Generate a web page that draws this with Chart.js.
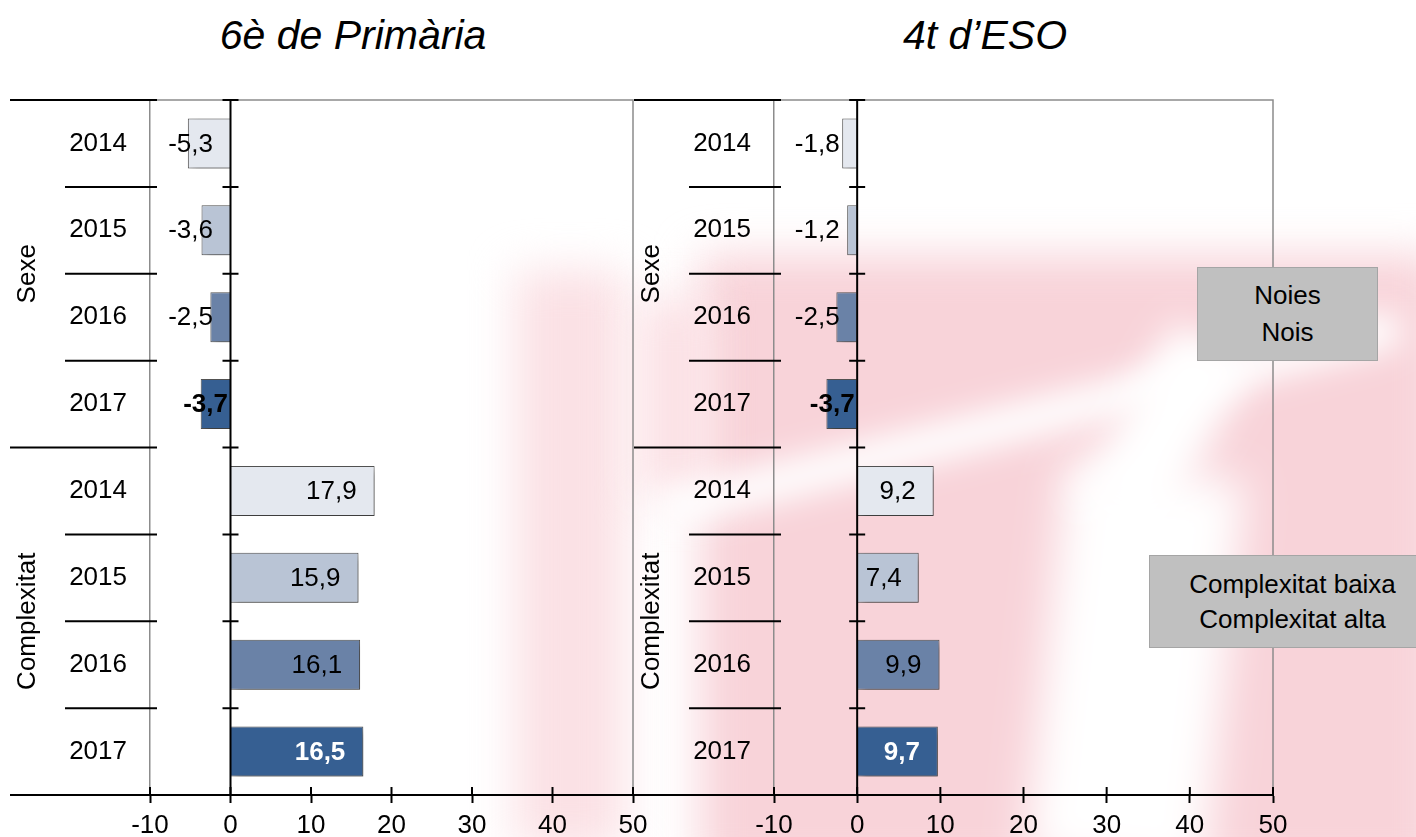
<!DOCTYPE html>
<html>
<head>
<meta charset="utf-8">
<script src="https://cdn.jsdelivr.net/npm/chart.js@4.4.1/dist/chart.umd.min.js"></script>
<style>
    body { margin: 0; width: 1416px; height: 837px; overflow: hidden; background: #fff; position: relative;
           font-family: Arial, "Liberation Sans", sans-serif; }
    .wm { position: absolute; filter: blur(22px); }
    .title { position: absolute; top: 15px; font-size: 41px; line-height: 41px; font-style: italic;
             transform: translateX(-50%); white-space: nowrap; color: #000; }
    .box { position: absolute; background: #c0c0c0; border: 1px solid #a5a5a5; box-sizing: border-box;
           font-size: 26px; text-align: center; color: #000; display: flex; flex-direction: column;
           justify-content: center; }
    .wrap { position: absolute; top: 0; height: 837px; }
</style>
</head>
<body>
<!-- marca d'aigua de fons -->
<div class="wm" style="left:700px;top:255px;width:740px;height:620px;background:#f8d3d9;"></div>
<div class="wm" style="left:515px;top:270px;width:110px;height:580px;background:#fbe1e5;"></div>
<div class="wm" style="left:640px;top:300px;width:70px;height:200px;background:#fbe0e4;"></div>
<div class="wm" style="left:650px;top:400px;width:760px;height:38px;background:#fff;transform:rotate(-14deg);filter:blur(16px);"></div>
<div class="wm" style="left:1045px;top:470px;width:180px;height:400px;background:#fff;transform:rotate(6deg);"></div>
<div class="wm" style="left:1120px;top:330px;width:90px;height:200px;background:#fff;transform:rotate(30deg);filter:blur(18px);"></div>

<div class="title" style="left:353px;">6è de Primària</div>
<div class="title" style="left:985px;">4t d’ESO</div>

<div class="wrap" style="left:0;width:680px;"><canvas id="primaria" width="680" height="837"></canvas></div>
<div class="wrap" style="left:634px;width:782px;"><canvas id="eso" width="782" height="837"></canvas></div>

<div class="box" style="left:1197px;top:267px;width:181px;height:94px;line-height:37px;"><div>Noies</div><div>Nois</div></div>
<div class="box" style="left:1149px;top:555px;width:287px;height:93px;line-height:35px;"><div>Complexitat baixa</div><div>Complexitat alta</div></div>

<script>
const years = ['2014', '2015', '2016', '2017', '2014', '2015', '2016', '2017'];
const groups = ['Sexe', 'Complexitat'];
const primaria = [-5.3, -3.6, -2.5, -3.7, 17.9, 15.9, 16.1, 16.5];
const eso = [-1.8, -1.2, -2.5, -3.7, 9.2, 7.4, 9.9, 9.7];
const xMin = -10;
const xMax = 50;
const xStep = 10;
const yearColors = ['#e4e8ef', '#b9c4d5', '#6a82a7', '#365f92'];

const FONT = 'Arial, "Liberation Sans", sans-serif';

function fmt(v) {
    return v.toFixed(1).replace('.', ',');
}

// dibuixa etiquetes, separadors i creus de l'eix
const decor = {
    id: 'decor',
    beforeDatasetsDraw(chart) {
        const ctx = chart.ctx;
        ctx.save();
        ctx.shadowColor = 'rgba(0,0,0,0.35)';
        ctx.shadowBlur = 8;
        ctx.shadowOffsetX = 4;
        ctx.shadowOffsetY = 4;
    },
    afterDatasetsDraw(chart) {
        const ctx = chart.ctx;
        ctx.restore();
        const values = chart.data.datasets[0].data;
        const meta = chart.getDatasetMeta(0);
        ctx.save();
        ctx.textBaseline = 'middle';
        ctx.textAlign = 'right';
        meta.data.forEach((bar, i) => {
            const v = values[i];
            const bold = i % 4 === 3;
            const txt = fmt(v);
            ctx.font = (bold ? 'bold ' : '') + '26px ' + FONT;
            ctx.fillStyle = bold && v > 0 ? '#fff' : '#000';
            let x;
            if (v >= 0) {
                const w = ctx.measureText(txt).width;
                x = bar.x - 18;
                if (x - w < bar.base + 8) x = bar.base + 8 + w;
            } else {
                x = bold ? bar.base - 2 : bar.base - 17;
            }
            ctx.fillText(txt, x, bar.y + 1);
        });
        ctx.restore();
    },
    afterDraw(chart) {
        const ctx = chart.ctx;
        const area = chart.chartArea;
        const xs = chart.scales.x;
        const ys = chart.scales.y;
        const x0 = xs.getPixelForValue(0);
        const n = years.length;
        const bounds = [];
        for (let k = 0; k <= n; k++) {
            if (k === 0) bounds.push(area.top);
            else if (k === n) bounds.push(area.bottom);
            else bounds.push((ys.getPixelForValue(k - 1) + ys.getPixelForValue(k)) / 2);
        }
        ctx.save();
        // marc gris superior i dret
        ctx.strokeStyle = '#8c8c8c';
        ctx.lineWidth = 1.5;
        ctx.beginPath();
        ctx.moveTo(area.left, area.top);
        ctx.lineTo(area.right, area.top);
        ctx.lineTo(area.right, area.bottom);
        ctx.stroke();

        // línia del zero
        ctx.strokeStyle = '#000';
        ctx.lineWidth = 2;
        ctx.beginPath();
        ctx.moveTo(x0, area.top);
        ctx.lineTo(x0, area.bottom);
        ctx.stroke();

        // separadors de categories
        bounds.forEach((y, k) => {
            const big = k % 4 === 0;
            ctx.beginPath();
            ctx.moveTo(area.left - (big ? 140 : 85), y);
            ctx.lineTo(area.left + 7, y);
            ctx.moveTo(x0 - 8, y);
            ctx.lineTo(x0 + 8, y);
            ctx.stroke();
        });
        ctx.beginPath();
        ctx.moveTo(area.left - 140, area.bottom);
        ctx.lineTo(area.right, area.bottom);
        ctx.stroke();

        // part superior de les marques de l'eix x
        xs.ticks.forEach(t => {
            const px = xs.getPixelForValue(t.value);
            ctx.beginPath();
            ctx.moveTo(px, area.bottom - 8);
            ctx.lineTo(px, area.bottom);
            ctx.stroke();
        });

        // etiquetes de grup
        ctx.fillStyle = '#000';
        ctx.font = '26px ' + FONT;
        ctx.textAlign = 'center';
        ctx.textBaseline = 'middle';
        groups.forEach((g, gi) => {
            const yc = (bounds[gi * 4] + bounds[gi * 4 + 4]) / 2;
            ctx.save();
            ctx.translate(area.left - 122, yc);
            ctx.rotate(-Math.PI / 2);
            ctx.fillText(g, 0, 0);
            ctx.restore();
        });
        ctx.restore();
    }
};

function makeChart(id, values, rightPad) {
    const ctx = document.getElementById(id).getContext('2d');
    return new Chart(ctx, {
        type: 'bar',
        data: {
            labels: years,
            datasets: [{
                data: values,
                backgroundColor: values.map((v, i) => yearColors[i % 4]),
                borderColor: '#555',
                borderWidth: 1,
                barPercentage: 0.575,
                categoryPercentage: 1
            }]
        },
        options: {
            indexAxis: 'y',
            responsive: false,
            animation: false,
            layout: { padding: { left: 0, right: rightPad, top: 100, bottom: 0 } },
            plugins: {
                legend: { display: false },
                tooltip: { enabled: false }
            },
            scales: {
                x: {
                    min: xMin,
                    max: xMax,
                    ticks: {
                        stepSize: xStep,
                        color: '#000',
                        padding: 7,
                        font: { size: 26, family: FONT },
                        callback: v => String(v)
                    },
                    grid: {
                        color: 'rgba(0,0,0,0)',
                        drawTicks: true,
                        tickLength: 8,
                        tickColor: '#000',
                        tickWidth: 2
                    },
                    border: { color: '#000', width: 2 },
                    afterFit: s => { s.height = 42; }
                },
                y: {
                    ticks: {
                        color: '#000',
                        padding: 23,
                        font: { size: 26, family: FONT }
                    },
                    grid: { display: false, drawTicks: false },
                    border: { color: '#8c8c8c', width: 1.5 },
                    afterFit: s => { s.width = id === 'eso' ? 140 : 150; }
                }
            }
        },
        plugins: [decor]
    });
}

makeChart('primaria', primaria, 47);
makeChart('eso', eso, 143);
</script>
</body>
</html>
